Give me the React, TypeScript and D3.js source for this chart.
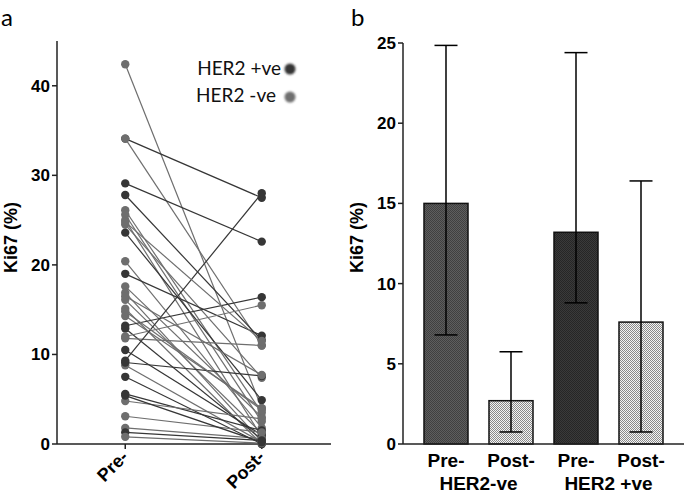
import React from "react";
import * as d3 from "d3";

// ---------- Panel a data ----------
const timepoints = ["Pre-", "Post-"];
const preValues = [42.4, 34.1, 34.1, 29.1, 27.8, 26.1, 25.6, 25.0, 24.5, 23.6, 20.4, 19.0, 17.6, 16.9, 16.1, 15.1, 14.3, 13.2, 12.9, 12.0, 11.8, 10.5, 9.3, 8.8, 9.1, 7.5, 5.6, 4.8, 3.1, 1.8, 1.3, 0.8, 24.8, 16.5, 14.8, 5.4];
const postValues = [4.0, 27.5, 11.0, 22.6, 11.6, 3.5, 2.5, 0.8, 7.4, 4.9, 1.8, 12.1, 3.0, 0.3, 1.2, 0.0, 4.0, 16.4, 0.5, 15.5, 11.0, 1.0, 28.0, 0.2, 7.6, 0.0, 1.5, 2.8, 1.3, 0.6, 0.4, 0.1, 11.5, 7.7, 3.8, 0.2];
const her2Status = ["neg", "pos", "neg", "pos", "pos", "neg", "neg", "neg", "neg", "pos", "neg", "pos", "neg", "neg", "neg", "neg", "neg", "pos", "pos", "neg", "neg", "pos", "pos", "neg", "pos", "pos", "pos", "neg", "neg", "neg", "pos", "neg", "neg", "neg", "neg", "pos"];
const yTicksA = [0, 10, 20, 30, 40];
const legendLabels = ["HER2 +ve", "HER2 -ve"];
const legendKeys = ["pos", "neg"];

// ---------- Panel b data ----------
const barKeys = ["preNeg", "postNeg", "prePos", "postPos"];
const barLabels = ["Pre-", "Post-", "Pre-", "Post-"];
const groupLabels = ["HER2-ve", "HER2 +ve"];
const barMeans = [15.0, 2.7, 13.2, 7.6];
const barLow = [6.8, 0.75, 8.8, 0.75];
const barHigh = [24.85, 5.75, 24.4, 16.4];
const yTicksB = [0, 5, 10, 15, 20, 25];
const barPatterns = ["patDark", "patLight", "patDarker", "patLight"];

const COLORS: Record<string, string> = { pos: "#363636", neg: "#6e6e6e" };
const tickFont = "'Liberation Sans', Arial, sans-serif";
const textFont = "Lato, 'Open Sans', sans-serif";

export default function App() {
  // Panel a scales
  const yA = d3.scaleLinear().domain([0, 45]).range([444, 41]);
  const xA = d3.scalePoint<string>().domain(timepoints).range([57, 330]).padding(0.5);

  // Panel b scales
  const yB = d3.scaleLinear().domain([0, 25]).range([444, 43]);
  const xB = d3.scaleBand<string>().domain(barKeys).range([403, 684]).paddingInner(0.323).paddingOuter(0.323);
  const bw = xB.bandwidth();
  const capW = 23;

  const pairs = preValues.map((p, i) => ({ pre: p, post: postValues[i], s: her2Status[i] }));

  return (
    <svg width={685} height={495} style={{ position: "absolute", left: 0, top: 0, background: "#fff" }}>
      <defs>
        <pattern id="patDark" width={2} height={2} patternUnits="userSpaceOnUse">
          <rect width={2} height={2} fill="#5e5e5e" />
          <rect width={1} height={1} fill="#404040" />
          <rect x={1} y={1} width={1} height={1} fill="#404040" />
        </pattern>
        <pattern id="patDarker" width={2} height={2} patternUnits="userSpaceOnUse">
          <rect width={2} height={2} fill="#3a3a3a" />
          <rect width={1} height={1} fill="#262626" />
          <rect x={1} y={1} width={1} height={1} fill="#262626" />
        </pattern>
        <pattern id="patLight" width={2} height={2} patternUnits="userSpaceOnUse">
          <rect width={2} height={2} fill="#f4f4f4" />
          <rect width={1} height={1} fill="#8a8a8a" />
          <rect x={1} y={1} width={1} height={1} fill="#8a8a8a" />
        </pattern>
        <filter id="blurDot" x="-50%" y="-50%" width="200%" height="200%">
          <feGaussianBlur stdDeviation={0.9} />
        </filter>
      </defs>

      {/* ---------------- Panel a ---------------- */}
      <text x={1} y={26} fontFamily={textFont} fontSize={24}>a</text>
      <text
        transform={`translate(17,${(yA(0) + yA(45)) / 2 - 5}) rotate(-90)`}
        textAnchor="middle"
        fontFamily={tickFont}
        fontWeight="bold"
        fontSize={18}
      >Ki67 (%)</text>
      {/* axes */}
      <line x1={57} x2={57} y1={yA(45)} y2={yA(0)} stroke="#222" strokeWidth={1.5} />
      <line x1={57} x2={331} y1={yA(0)} y2={yA(0)} stroke="#222" strokeWidth={1.5} />
      {yTicksA.map((t) => (
        <g key={t}>
          <line x1={52} x2={57} y1={yA(t)} y2={yA(t)} stroke="#222" strokeWidth={1.5} />
          <text x={50} y={yA(t) + 6} textAnchor="end" fontFamily={tickFont} fontWeight="bold" fontSize={17}>{t}</text>
        </g>
      ))}
      {timepoints.map((t) => (
        <g key={t}>
          <line x1={xA(t)} x2={xA(t)} y1={yA(0)} y2={yA(0) + 5} stroke="#222" strokeWidth={1.5} />
          <text
            transform={`translate(${(xA(t) as number) + 4},${yA(0) + 14}) rotate(-45)`}
            textAnchor="end"
            fontFamily={tickFont}
            fontWeight="bold"
            fontSize={18}
          >{t}</text>
        </g>
      ))}
      {/* lines */}
      {pairs.map((d, i) => (
        <line
          key={"l" + i}
          x1={xA("Pre-")}
          x2={xA("Post-")}
          y1={yA(d.pre)}
          y2={yA(d.post)}
          stroke={COLORS[d.s]}
          strokeWidth={1.2}
        />
      ))}
      {/* points */}
      {pairs.map((d, i) => (
        <g key={"p" + i}>
          <circle cx={xA("Pre-")} cy={yA(d.pre)} r={4.2} fill={COLORS[d.s]} />
          <circle cx={xA("Post-")} cy={yA(d.post)} r={4.2} fill={COLORS[d.s]} />
        </g>
      ))}
      {/* legend */}
      {legendLabels.map((l, i) => (
        <g key={l}>
          <text x={i === 0 ? 281 : 276} y={75 + i * 27} textAnchor="end" fontFamily={textFont} fontSize={19} fill="#111">{l}</text>
          <circle cx={290} cy={69 + i * 28} r={5.5} fill={COLORS[legendKeys[i]]} filter="url(#blurDot)" />
        </g>
      ))}

      {/* ---------------- Panel b ---------------- */}
      <text x={351} y={26} fontFamily={textFont} fontSize={24}>b</text>
      <text
        transform={`translate(363,${(yB(0) + yB(25)) / 2 - 6}) rotate(-90)`}
        textAnchor="middle"
        fontFamily={tickFont}
        fontWeight="bold"
        fontSize={18}
      >Ki67 (%)</text>
      {/* bars */}
      {barKeys.map((k, i) => (
        <rect
          key={k}
          x={xB(k)}
          y={yB(barMeans[i])}
          width={bw}
          height={yB(0) - yB(barMeans[i])}
          fill={`url(#${barPatterns[i]})`}
          stroke="#111"
          strokeWidth={1.5}
        />
      ))}
      {/* error bars */}
      {barKeys.map((k, i) => {
        const cx = (xB(k) as number) + bw / 2;
        return (
          <g key={"e" + k} stroke="#000" strokeWidth={1.5}>
            <line x1={cx} x2={cx} y1={yB(barLow[i])} y2={yB(barHigh[i])} />
            <line x1={cx - capW / 2} x2={cx + capW / 2} y1={yB(barHigh[i])} y2={yB(barHigh[i])} />
            <line x1={cx - capW / 2} x2={cx + capW / 2} y1={yB(barLow[i])} y2={yB(barLow[i])} />
          </g>
        );
      })}
      {/* axes */}
      <line x1={403} x2={403} y1={yB(25)} y2={yB(0)} stroke="#222" strokeWidth={1.5} />
      <line x1={403} x2={684} y1={yB(0)} y2={yB(0)} stroke="#222" strokeWidth={1.5} />
      {yTicksB.map((t) => (
        <g key={t}>
          <line x1={398} x2={403} y1={yB(t)} y2={yB(t)} stroke="#222" strokeWidth={1.5} />
          <text x={396} y={yB(t) + 6} textAnchor="end" fontFamily={tickFont} fontWeight="bold" fontSize={17}>{t}</text>
        </g>
      ))}
      {barKeys.map((k, i) => (
        <text key={"bl" + k} x={(xB(k) as number) + bw / 2} y={467} textAnchor="middle" fontFamily={tickFont} fontWeight="bold" fontSize={19}>{barLabels[i]}</text>
      ))}
      {groupLabels.map((g, i) => {
        const a = (xB(barKeys[i * 2]) as number) + bw / 2;
        const b = (xB(barKeys[i * 2 + 1]) as number) + bw / 2;
        return (
          <text key={g} x={(a + b) / 2} y={490} textAnchor="middle" fontFamily={tickFont} fontWeight="bold" fontSize={19}>{g}</text>
        );
      })}
    </svg>
  );
}
